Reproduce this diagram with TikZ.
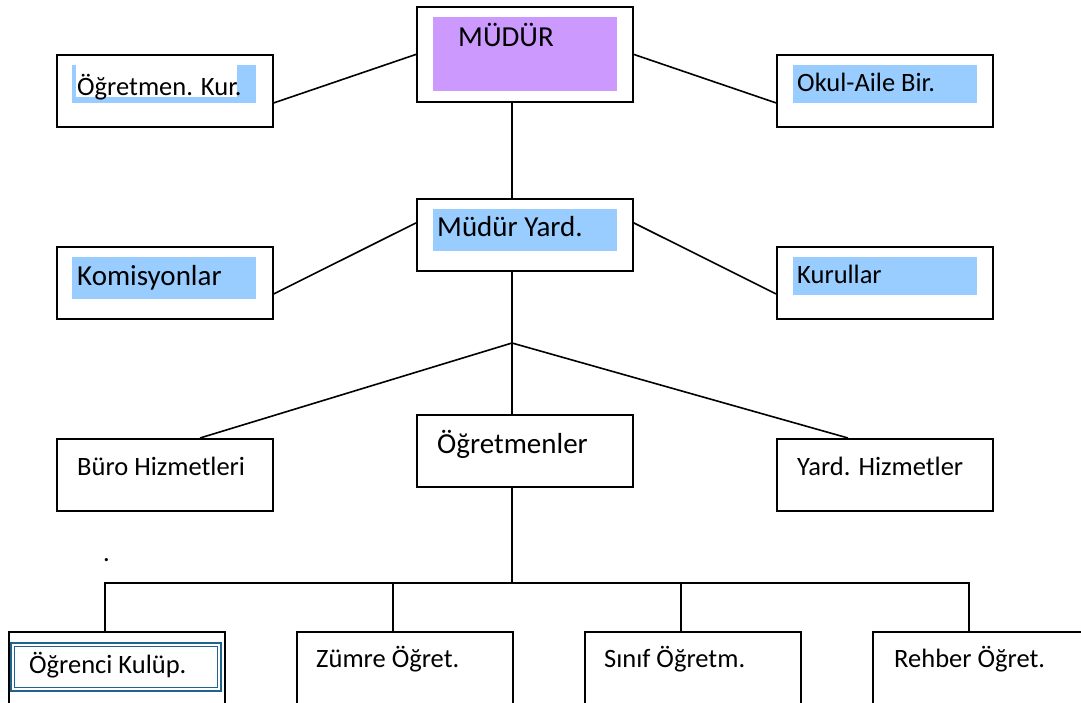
\documentclass[tikz,border=0pt]{standalone}
\usepackage{fontspec}
\setmainfont{Carlito}
\usetikzlibrary{calc}
\definecolor{hlblue}{RGB}{153,204,255}
\definecolor{hlpurple}{RGB}{204,153,255}
\definecolor{dblue}{RGB}{31,99,146}
\tikzset{
  box/.style={draw=black, line width=1.8pt, minimum width=216pt, minimum height=72pt, inner sep=0pt, anchor=north west, fill=white},
  conn/.style={draw=black, line width=1.6pt},
  smalltxt/.style={anchor=base west, inner sep=0pt, font=\fontsize{26.5}{30}\selectfont},
  bigtxt/.style={anchor=base west, inner sep=0pt, font=\fontsize{29}{33}\selectfont},
}
\begin{document}
\begin{tikzpicture}[x=1pt,y=-1pt]
\clip (0,0) rectangle (1081,702);
\fill[white] (0,0) rectangle (1081,702);
% boxes
\node[box, minimum height=95pt] (mudur) at (416,6) {};
\node[box] (ogk) at (56,54) {};
\node[box] (okul) at (776,54) {};
\node[box] (myard) at (416,198) {};
\node[box] (komis) at (56,246) {};
\node[box] (kurul) at (776,246) {};
\node[box] (buro) at (56,438) {};
\node[box] (ogr) at (416,414) {};
\node[box] (yard) at (776,438) {};
\node[box, minimum height=90pt] (b1) at (8,631) {};
\node[box, minimum height=90pt] (b2) at (296,631) {};
\node[box, minimum height=90pt] (b3) at (584,631) {};
\node[box, minimum height=90pt] (b4) at (872,631) {};
% highlights
\fill[hlpurple] (433,17) rectangle (617,91);
\fill[hlblue] (72,65) rectangle (256,103);
\fill[white] (76,65) rectangle (237,97);
\fill[hlblue] (793,65) rectangle (977,103);
\fill[hlblue] (433,209) rectangle (617,251);
\fill[hlblue] (72,257) rectangle (256,299);
\fill[hlblue] (793,257) rectangle (977,295);
\draw[dblue, line width=2.4pt] (11,643) rectangle (221,691);
\draw[dblue, line width=1pt] (14.5,646.5) rectangle (217.5,687.5);
% texts
\node[bigtxt] (tmudur) at (458,46) {MÜDÜR};
\node[smalltxt] (togk) at (77,95) {Öğretmen. Kur.};
\node[smalltxt] (tokul) at (797,91) {Okul-Aile Bir.};
\node[bigtxt] (tmyard) at (437,236) {Müdür Yard.};
\node[bigtxt] (tkomis) at (77,285) {Komisyonlar};
\node[smalltxt] (tkurul) at (797,283) {Kurullar};
\node[smalltxt] (tburo) at (77,475) {Büro Hizmetleri};
\node[bigtxt] (togr) at (437,453) {Öğretmenler};
\node[smalltxt] (tyard) at (797,475) {Yard. Hizmetler};
\node[smalltxt] (tb1) at (29,673) {Öğrenci Kulüp.};
\node[smalltxt] (tb2) at (316,667) {Zümre Öğret.};
\node[smalltxt] (tb3) at (604,667) {Sınıf Öğretm.};
\node[smalltxt] (tb4) at (894,667) {Rehber Öğret.};
\node[smalltxt] (dot) at (103,561) {.};
% connectors
\coordinate (j1) at (512,343);
\coordinate (j2) at (512,583);
\draw[conn] (mudur.west) -- ($(ogk.east)+(0,12)$);
\draw[conn] (mudur.east) -- ($(okul.west)+(0,12)$);
\draw[conn] (j1 |- mudur.south) -- (j1 |- myard.north);
\draw[conn] ($(myard.west)+(0,-12)$) -- ($(komis.east)+(0,11)$);
\draw[conn] ($(myard.east)+(0,-12)$) -- ($(kurul.west)+(0,11)$);
\draw[conn] (j1 |- myard.south) -- (j1);
\draw[conn] (j1) -- ($(buro.north west)+(144,0)$);
\draw[conn] (j1) -- ($(yard.north west)+(72,0)$);
\draw[conn] (j1) -- (j1 |- ogr.north);
\draw[conn] (j2 |- ogr.south) -- (j2);
\coordinate (c1) at ($(b1.north)+(-12,0)$);
\coordinate (c2) at ($(b2.north)+(-12,0)$);
\coordinate (c3) at ($(b3.north)+(-12,0)$);
\coordinate (c4) at ($(b4.north)+(-12,0)$);
\draw[conn] (c1) -- (c1 |- j2) -- (c4 |- j2) -- (c4);
\draw[conn] (c2) -- (c2 |- j2);
\draw[conn] (c3) -- (c3 |- j2);
\end{tikzpicture}
\end{document}
